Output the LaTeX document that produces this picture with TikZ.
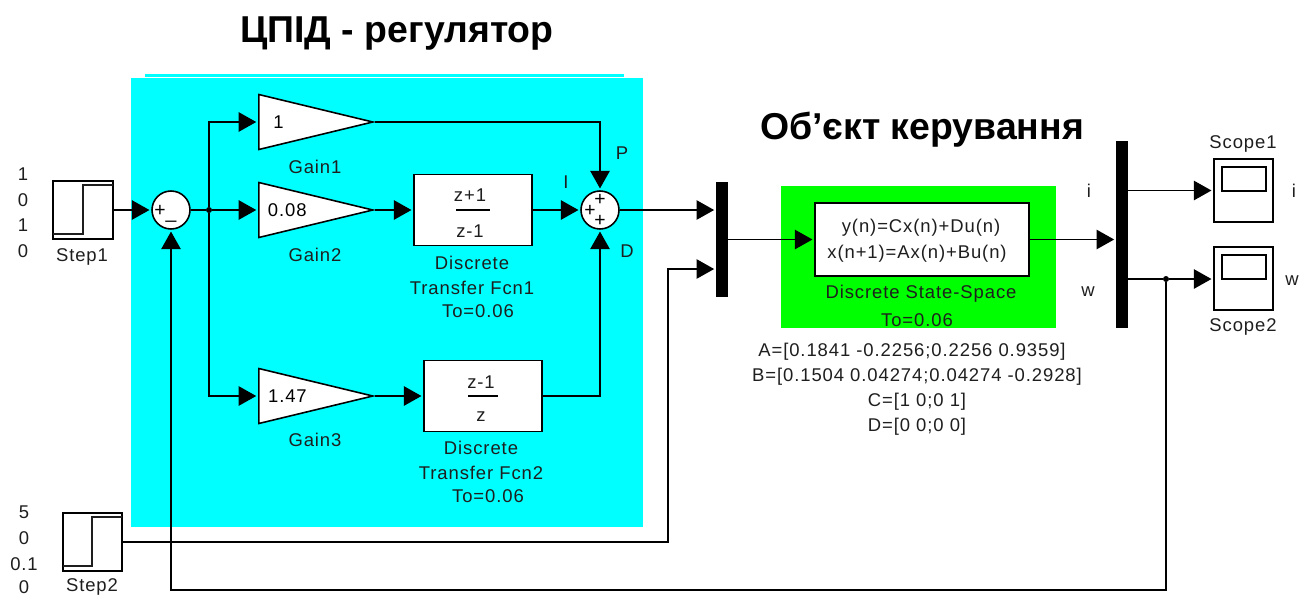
\documentclass[tikz,border=0pt]{standalone}
\usepackage{fontspec}
\setmainfont{Liberation Sans}
\newfontfamily\lblfont[LetterSpace=5]{Liberation Sans}
\usepackage{xcolor}
\usetikzlibrary{arrows.meta, shapes.geometric, calc}
\definecolor{pidcyan}{RGB}{0,255,255}
\definecolor{objgreen}{RGB}{0,255,0}
\definecolor{textgray}{RGB}{30,30,30}

\begin{document}
\begin{tikzpicture}[
  x=0.02cm, y=-0.02cm,
  stepbox/.style={rectangle, draw=black, fill=white, line width=0.9pt,
                  minimum width=1.19cm, minimum height=1.16cm, inner sep=0pt},
  gainbox/.style={isosceles triangle, isosceles triangle stretches, draw=black, fill=white,
                  line width=0.9pt, minimum height=2.28cm, minimum width=1.1cm,
                  inner sep=0pt, font=\lblfont\fontsize{10.5}{12}\selectfont, anchor=lower side},
  tfbox/.style={rectangle, draw=black, fill=white, line width=0.9pt,
                minimum width=2.36cm, minimum height=1.42cm, inner sep=0pt},
  sumbox/.style={circle, draw=black, fill=white, line width=0.9pt,
                 minimum size=0.76cm, inner sep=0pt},
  muxbox/.style={rectangle, fill=black, minimum width=0.23cm, inner sep=0pt},
  scopebox/.style={rectangle, draw=black, fill=white, line width=0.9pt,
                   minimum width=1.18cm, minimum height=1.26cm, inner sep=0pt},
  screenbox/.style={rectangle, draw=black, fill=white, line width=0.9pt,
                    minimum width=0.88cm, minimum height=0.48cm, inner sep=0pt},
  dot/.style={circle, fill=black, minimum size=0.12cm, inner sep=0pt},
  arr/.style={-{Triangle[length=10pt,width=11pt]}, line width=0.9pt, shorten >=1pt},
  line/.style={line width=0.9pt},
  lbl/.style={font=\lblfont\fontsize{10.5}{12}\selectfont, text=textgray, inner sep=0pt, yshift=-0.5pt},
  sgn/.style={font=\fontsize{11}{12}\selectfont, inner sep=0pt},
  ttl/.style={font=\fontsize{21.3}{24}\selectfont\bfseries, inner sep=0pt, yshift=-1.5pt}
]
\useasboundingbox (0,0) rectangle (1311,596);

\node[rectangle, fill=pidcyan, minimum width=9.58cm, minimum height=0.05cm, inner sep=0pt] (strip) at (384.5,75.5) {};
\node[rectangle, fill=pidcyan, minimum width=10.24cm, minimum height=8.98cm, inner sep=0pt] (pid) at (387,302.5) {};
\node[rectangle, fill=objgreen, minimum width=5.5cm, minimum height=2.84cm, inner sep=0pt] (obj) at (918.5,257) {};

\node[ttl] (title1) at (397,31)  {ЦПІД - регулятор};
\node[ttl] (title2) at (922,127) {Об'єкт керування};

\node[stepbox] (step1) at (83,210)    {};
\node[stepbox] (step2) at (92.5,542)  {};
\node[sumbox]  (sum1)  at (171,210)   {};
\node[dot]     (jn1)   at (209,210)   {};
\node[gainbox] (gain1) at (258,122)   {1};
\node[gainbox] (gain2) at (258,210)   {0.08};
\node[gainbox] (gain3) at (258,396)   {1.47};
\node[tfbox]   (tf1)   at (473,210)   {};
\node[tfbox]   (tf2)   at (483,396)   {};
\node[sumbox]  (sum2)  at (600,210)   {};
\node[muxbox, minimum height=2.3cm]  (mux1) at (722,239.5) {};
\node[tfbox, minimum width=4.28cm, minimum height=1.46cm] (ss) at (922,239.5) {};
\node[muxbox, minimum height=3.74cm] (mux2) at (1122,234.5) {};
\node[scopebox] (scope1) at (1243.5,190.5) {};
\node[scopebox] (scope2) at (1243.5,278.5) {};
\node[screenbox] (screen1) at (1244,179) {};
\node[screenbox] (screen2) at (1244,267) {};
\node[dot] (jn2) at (1166,279) {};

\coordinate (c2) at (668,269);
\coordinate (fb) at (1166,590);

\draw[line width=0.9pt, draw=textgray] (53,234) -- (83,234) -- (83,185) -- (113,185);
\draw[line width=0.9pt, draw=textgray] (63,566) -- (92,566) -- (92,517) -- (122,517);
\draw[line] ($(tf1)+(-17,0)$) -- ($(tf1)+(17,0)$);
\draw[line] ($(tf2)+(-15,0)$) -- ($(tf2)+(15,0)$);

\draw[arr] (step1) -- (sum1);
\draw[line] (sum1) -- (jn1);
\draw[arr] (jn1) -- (gain2.lower side);
\draw[arr] (jn1) |- (gain1.lower side);
\draw[arr] (jn1) |- (gain3.lower side);
\draw[arr] (gain1.apex) -| (sum2.north);
\draw[arr] (gain2.apex) -- (tf1);
\draw[arr] (tf1) -- (sum2);
\draw[arr] (gain3.apex) -- (tf2);
\draw[arr] (tf2) -| (sum2.south);
\draw[arr] (sum2) -- (mux1.west |- sum2);
\draw[arr] (step2) -| (c2) -- (mux1.west |- c2);
\draw[arr] (mux1) -- (ss);
\draw[arr] (ss) -- (mux2.west |- ss);
\draw[arr] (mux2.east |- scope1) -- (scope1);
\draw[arr] (mux2.east |- jn2) -- (jn2) -- (scope2.west |- jn2);
\draw[arr] (jn2) -- (fb) -| (sum1.south);

\node[sgn] (s1a) at (160,211) {+};
\node[sgn] (s1b) at (171,220) {\_};
\node[sgn] (s2a) at (600,200) {+};
\node[sgn] (s2b) at (590,211) {+};
\node[sgn] (s2c) at (600,221) {+};

\node[lbl] (num1a) at (23,173) {1};
\node[lbl] (num1b) at (23,199) {0};
\node[lbl] (num1c) at (23,224) {1};
\node[lbl] (num1d) at (23,250) {0};
\node[lbl] (num2a) at (24,511) {5};
\node[lbl] (num2b) at (24,537) {0};
\node[lbl] (num2c) at (24,563) {0.1};
\node[lbl] (num2d) at (24,586) {0};

\node[lbl] (lstep1) at (82,256)  {Step1};
\node[lbl] (lstep2) at (92,586)  {Step2};
\node[lbl] (lgain1) at (315,166) {Gain1};
\node[lbl] (lgain2) at (315,254) {Gain2};
\node[lbl] (lgain3) at (315,439) {Gain3};

\node[lbl] (n1) at (470,194) {z+1};
\node[lbl] (d1) at (470,230) {z-1};
\node[lbl] (n2) at (481,381) {z-1};
\node[lbl] (d2) at (481,416) {z};
\node[lbl] (ltf1a) at (472,262) {Discrete};
\node[lbl] (ltf1b) at (472,287) {Transfer Fcn1};
\node[lbl] (ltf1c) at (478,310) {To=0.06};
\node[lbl] (ltf2a) at (481,447) {Discrete};
\node[lbl] (ltf2b) at (481,472) {Transfer Fcn2};
\node[lbl] (ltf2c) at (488,495) {To=0.06};

\node[lbl] (lp) at (622,152) {P};
\node[lbl] (li) at (566,181) {I};
\node[lbl] (ld) at (627,250) {D};

\node[lbl] (eq1) at (921,227) {y(n)=Cx(n)+Du(n)};
\node[lbl] (eq2) at (917,253) {x(n+1)=Ax(n)+Bu(n)};
\node[lbl] (lss)  at (921,293) {Discrete State-Space};
\node[lbl] (lto)  at (917,319) {To=0.06};
\node[lbl] (ma) at (912,351) {A=[0.1841 -0.2256;0.2256 0.9359]};
\node[lbl] (mb) at (917,376) {B=[0.1504 0.04274;0.04274 -0.2928]};
\node[lbl] (mc) at (917,401) {C=[1 0;0 1]};
\node[lbl] (md) at (917,426) {D=[0 0;0 0]};

\node[lbl] (li1) at (1089,190) {i};
\node[lbl] (lw1) at (1088,291) {w};
\node[lbl] (li2) at (1294,190) {i};
\node[lbl] (lw2) at (1292,280) {w};
\node[lbl] (lscope1) at (1243,143) {Scope1};
\node[lbl] (lscope2) at (1243,326) {Scope2};

\end{tikzpicture}
\end{document}
